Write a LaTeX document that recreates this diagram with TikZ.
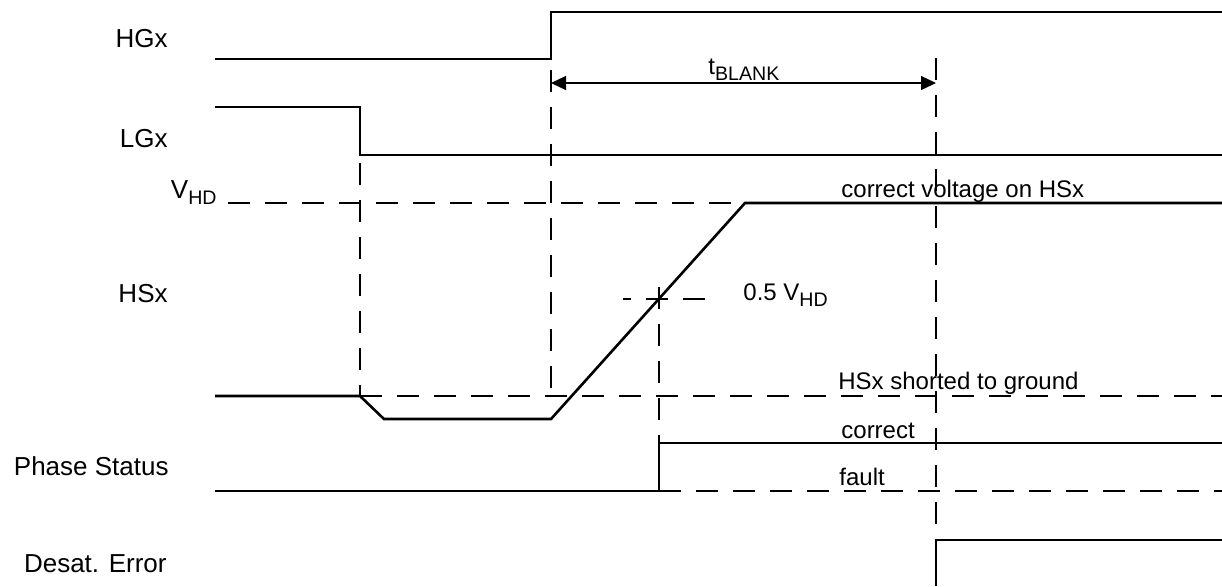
\documentclass[tikz,border=0pt]{standalone}
\usepackage{fontspec}
\setmainfont{Liberation Sans}
\usetikzlibrary{arrows.meta}
\newcommand{\lowidx}[1]{\raisebox{-3pt}{\fontsize{9.8}{11}\selectfont #1}}
\tikzset{
  wave/.style={line width=0.65pt},
  thickwave/.style={line width=1.3pt},
  guide/.style={line width=0.65pt, dash pattern=on 11pt off 7.5pt},
  thickguide/.style={line width=1.3pt, dash pattern=on 11pt off 7.5pt},
  siglabel/.style={anchor=base east, inner sep=0pt, font=\fontsize{13}{15}\selectfont},
  tracelabel/.style={anchor=base west, inner sep=0pt, font=\fontsize{12}{14}\selectfont},
  dimarrow/.style={{Triangle[length=7.5pt,width=7pt]}-{Triangle[length=7.5pt,width=7pt]},
                   line width=0.65pt},
}

\begin{document}
\begin{tikzpicture}[x=0.5pt, y=-0.5pt]
\useasboundingbox (0,0) rectangle (1222,586);

% ============================ time instants ===========================
\coordinate (tL) at (360,0);   % LGx switches off
\coordinate (tH) at (551,0);   % HGx switches on
\coordinate (tP) at (659,0);   % HSx crosses half level
\coordinate (tD) at (936,0);   % end of blanking

% ============================ signal names ============================
\node[siglabel] (hgx) at (168,47) {HGx};
\node[siglabel] (lgx) at (168,147) {LGx};
\node[siglabel] (vhd) at (217,198) {V\lowidx{HD}};
\node[siglabel] (hsx) at (168,302) {HSx};
\node[siglabel] (phase) at (169,475) {Phase Status};
\node[siglabel] (desat) at (167,572) {Desat. Error};

% ============================ gate drives =============================
\draw[wave] (215,59) -- (tH |- 0,59) -- (tH |- 0,12) -- (1222,12);
\draw[wave] (215,107) -- (tL |- 0,107) -- (tL |- 0,155) -- (1222,155);

% blanking time
\draw[dimarrow] (tH |- 0,83) -- (tD |- 0,83);
\node[tracelabel] (tblank) at (708,74) {t\lowidx{BLANK}};

% ============================ switch node =============================
\draw[guide] (228,203) -- (745,203);
\draw[thickwave] (215,396) -- (tL |- 0,396) -- (384,419) -- (tH |- 0,419)
  -- (745,203) -- (1222,203);
\draw[thickguide] (tL |- 0,396) -- (1222,396);
\draw[guide, dash phase=7pt] (623,299) -- (708,299);

\node[tracelabel] (okv) at (841,197) {correct voltage on HSx};
\node[tracelabel] (half) at (743,300) {0.5 V\lowidx{HD}};
\node[tracelabel] (short) at (838,389) {HSx shorted to ground};

% ============================ status outputs ==========================
\draw[wave] (215,491) -- (tP |- 0,491) -- (tP |- 0,443) -- (1222,443);
\draw[guide] (tP |- 0,491) -- (1222,491);
\node[tracelabel] (ok) at (841,438) {correct};
\node[tracelabel] (fault) at (839,485) {fault};

\draw[wave] (tD |- 0,586) -- (tD |- 0,540) -- (1222,540);

% ============================ markers =================================
\draw[guide] (tL |- 0,163) -- (tL |- 0,396);
\draw[guide] (tH |- 0,70) -- (tH |- 0,396);
\draw[guide] (tP |- 0,287) -- (tP |- 0,443);
\draw[guide] (tD |- 0,58) -- (tD |- 0,540);

\end{tikzpicture}
\end{document}
